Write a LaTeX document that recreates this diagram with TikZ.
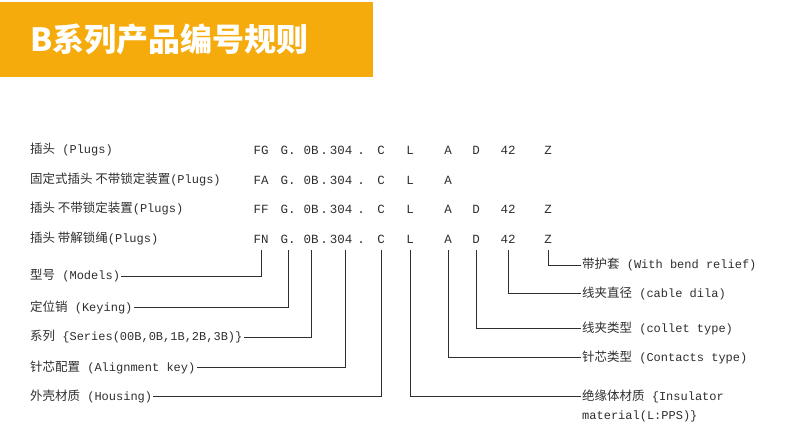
\documentclass[tikz,border=0pt]{standalone}
\usepackage{fontspec}
\setmainfont{Liberation Mono}
\newfontfamily\cjk{Noto Sans CJK SC}[Scale=1.04]
\newfontfamily\titlefont{Noto Sans CJK SC}
\usetikzlibrary{positioning}
\definecolor{banner}{HTML}{F5AB0C}
\definecolor{ink}{HTML}{2E2E2E}
\tikzset{
	lbl/.style={anchor=west, inner sep=1pt, text=ink, font=\fontsize{12}{14}\selectfont},
	code/.style={anchor=base, inner sep=0pt, text=ink, font=\fontsize{12.5}{14}\selectfont},
	lead/.style={draw=ink, line width=0.8pt},
}

\begin{document}
\begin{tikzpicture}[x=1pt,y=-1pt]
	\useasboundingbox (0,0) rectangle (790,425);
	% title bar
	\fill[banner] (0,2) rectangle (373,77);
	\node[anchor=west, inner sep=0pt, text=white, font=\titlefont\bfseries\fontsize{32}{36}\selectfont] (title) at (30,39) {B系列产品编号规则};
	% product rows
	\node[lbl] (plugs) at (29,150) {{\cjk 插头} (Plugs)};
	\node[lbl] (fixed) at (29,179) {{\cjk 固定式插头 不带锁定装置}(Plugs)};
	\node[lbl] (nolock) at (29,208) {{\cjk 插头 不带锁定装置}(Plugs)};
	\node[lbl] (rope) at (29,238) {{\cjk 插头 带解锁绳}(Plugs)};
	\foreach \r/\y/\p in {1/155/FG, 2/184/FA, 3/213/FF, 4/243/FN}{
		\node[code] (r\r p) at (261,\y) {\p};
		\foreach \x/\t/\k in {288/G./g, 311/0B/ob, 324/./da, 341/304/num, 361/./db, 381/C/c, 410/L/l, 448/A/a}
			\node[code] (r\r\k) at (\x,\y) {\t};
	}
	\foreach \r/\y in {1/155, 3/213, 4/243}
		\foreach \x/\t/\k in {476/D/dd, 508/42/dia, 548/Z/z}
			\node[code] (r\r\k) at (\x,\y) {\t};
	% left keys
	\node[lbl] (models) at (29,276) {{\cjk 型号} (Models)};
	\node[lbl] (keying) at (29,307) {{\cjk 定位销} (Keying)};
	\node[lbl] (series) at (29,337) {{\cjk 系列} \{Series(00B,0B,1B,2B,3B)\}};
	\node[lbl] (alignkey) at (29,367) {{\cjk 针芯配置} (Alignment key)};
	\node[lbl] (housing) at (29,396) {{\cjk 外壳材质} (Housing)};
	% right keys
	\node[lbl] (relief) at (581,265) {{\cjk 带护套} (With bend relief)};
	\node[lbl] (dila) at (581,293) {{\cjk 线夹直径} (cable dila)};
	\node[lbl] (collet) at (581,328) {{\cjk 线夹类型} (collet type)};
	\node[lbl] (contacts) at (581,357) {{\cjk 针芯类型} (Contacts type)};
	\node[lbl] (insul) at (581,396) {{\cjk 绝缘体材质} \{Insulator};
	\node[lbl, below=20pt of insul.west, anchor=west] (insulb) {material(L:PPS)\}};
	% leaders
	\draw[lead] ([yshift=-7pt]r4p.south) |- (models.east);
	\draw[lead] ([yshift=-7pt]r4g.south) |- (keying.east);
	\draw[lead] ([yshift=-7pt]r4ob.south) |- (series.east);
	\draw[lead] ([xshift=4pt,yshift=-7pt]r4num.south) |- (alignkey.east);
	\draw[lead] ([yshift=-7pt]r4c.south) |- (housing.east);
	\draw[lead] ([yshift=-7pt]r4z.south) |- (relief.west);
	\draw[lead] ([yshift=-7pt]r4dia.south) |- (dila.west);
	\draw[lead] ([yshift=-7pt]r4dd.south) |- (collet.west);
	\draw[lead] ([yshift=-7pt]r4a.south) |- (contacts.west);
	\draw[lead] ([yshift=-7pt]r4l.south) |- (insul.west);
\end{tikzpicture}
\end{document}
